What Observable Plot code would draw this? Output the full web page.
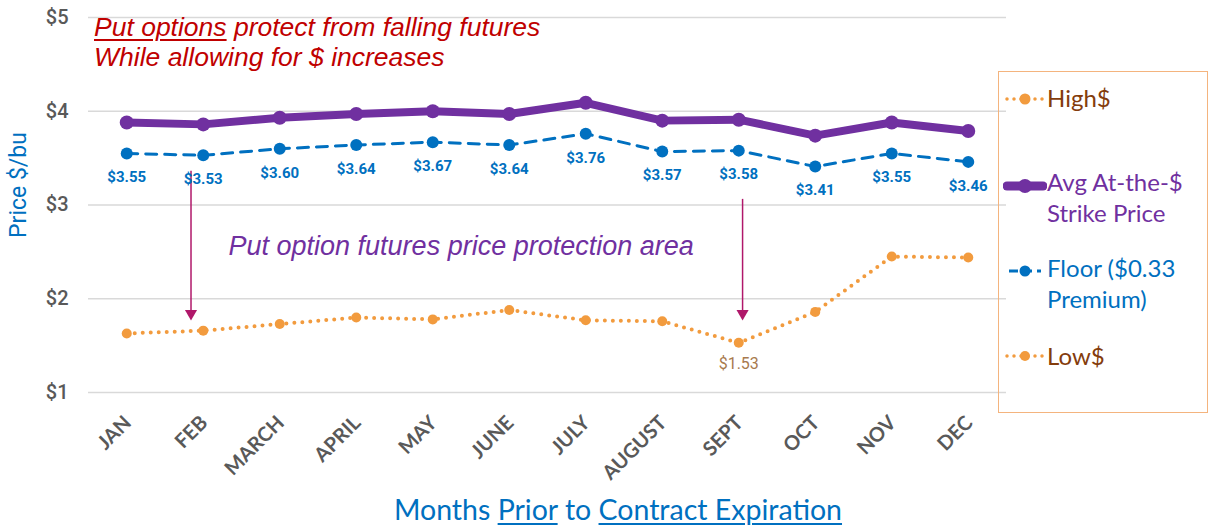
<!DOCTYPE html>
<html>
<head>
<meta charset="utf-8">
<script src="https://cdn.jsdelivr.net/npm/d3@7"></script>
<script src="https://cdn.jsdelivr.net/npm/@observablehq/plot@0.6"></script>
<style>
  html, body { margin: 0; padding: 0; background: #fff; }
  #wrap { position: relative; width: 1211px; height: 529px; overflow: hidden; }
  #wrap svg { position: absolute; left: 0; top: 0; }
  .note { position: absolute; font-family: "Liberation Sans", Arial, sans-serif; font-style: italic; color: #C00000; font-size: 26.5px; white-space: nowrap; line-height: 30px; }
  .u { text-decoration: underline; text-decoration-thickness: 2px; text-underline-offset: 3px; }
  #xtitle { position: absolute; left: 0; width: 1236px; text-align: center; top: 492px; font-family: Lato, sans-serif; font-size: 28.5px; color: #0070C0; white-space: nowrap; }
  #legend { position: absolute; left: 998px; top: 71px; width: 210px; height: 342px; border: 1.5px solid #F4B47E; box-sizing: border-box; }
  .li { position: absolute; left: 48px; font-family: Lato, sans-serif; font-size: 24px; line-height: 31px; white-space: nowrap; }
  .sym { position: absolute; left: 4px; }
</style>
</head>
<body>
<div id="wrap">
  <div class="note" style="left:94px; top:12px;"><span class="u">Put options</span> protect from falling futures<br>While allowing for $ increases</div>
  <div id="xtitle">Months <span class="u">Prior</span> to <span class="u">Contract Expiration</span></div>
  <div id="legend"></div>
</div>
<script>
// ---- data ----
const months = ["JAN","FEB","MARCH","APRIL","MAY","JUNE","JULY","AUGUST","SEPT","OCT","NOV","DEC"];
const avgStrike = [3.88,3.86,3.93,3.97,4.00,3.97,4.09,3.90,3.91,3.74,3.88,3.79];
const floorPrice = [3.55,3.53,3.60,3.64,3.67,3.64,3.76,3.57,3.58,3.41,3.55,3.46];
const lowPrice = [1.63,1.66,1.73,1.80,1.78,1.88,1.77,1.76,1.53,1.86,2.45,2.44];
const lowLabelIdx = [8];
const yTicks = [1,2,3,4,5];
const arrowX = [0.84, 8.05];
const arrowTop = [3.36, 3.06];
const arrowBottom = [1.79, 1.79];
const areaNote = ["Put option futures price protection area"];
const areaNoteX = [1.33];
const areaNoteY = [2.56];
const legendItems = ["High$", "Avg At-the-$\nStrike Price", "Floor ($0.33\nPremium)", "Low$"];

const PURPLE = "#7030A0", BLUE = "#0070C0", ORANGE = "#F29B3E", BROWN = "#843C0C", GRAY = "#595959";

const idx = months.map((d, i) => i);
const rows = idx.map(i => ({i, month: months[i], avg: avgStrike[i], floor: floorPrice[i], low: lowPrice[i]}));
const arrows = arrowX.map((x, k) => ({x, y1: arrowTop[k], y2: arrowBottom[k]}));

const chart = Plot.plot({
  width: 1211,
  height: 529,
  marginLeft: 88,
  marginRight: 205,
  marginTop: 17,
  marginBottom: 137,
  x: {type: "linear", domain: [-0.5, 11.5], axis: null},
  y: {domain: [1, 5], axis: null},
  marks: [
    Plot.ruleY(yTicks, {stroke: "#D9D9D9", strokeWidth: 1.5}),
    Plot.text(yTicks, {y: d => d, frameAnchor: "left", text: d => "$" + d, textAnchor: "end", dx: -20,
      fill: GRAY, fontSize: 20, fontWeight: 500, fontFamily: "Roboto, sans-serif"}),
    Plot.text(months, {x: (d, i) => i, frameAnchor: "bottom", text: d => d, rotate: -45, textAnchor: "end",
      lineAnchor: "middle", dy: 27, dx: 1, fill: GRAY, fontSize: 20, fontWeight: 700, fontFamily: "Lato, sans-serif"}),
    // arrows
    Plot.ruleX(arrows, {x: "x", y1: "y1", y2: "y2", stroke: "#B0186A", strokeWidth: 1.5, insetBottom: 6}),
    Plot.dot(arrows, {x: "x", y: "y2", symbol: "triangle", rotate: 180, r: 4.5, fill: "#B0186A", dy: -5}),
    // low series
    Plot.line(rows, {x: "i", y: "low", stroke: ORANGE, strokeWidth: 4, strokeDasharray: "0 8", strokeLinecap: "round"}),
    Plot.dot(rows, {x: "i", y: "low", r: 5, fill: ORANGE}),
    Plot.text(lowLabelIdx.map(i => rows[i]), {x: "i", y: "low", text: d => "$" + d.low.toFixed(2), dy: 21,
      fill: "#A87A4E", fontSize: 16, fontFamily: "Roboto, sans-serif"}),
    // floor series
    Plot.line(rows, {x: "i", y: "floor", stroke: BLUE, strokeWidth: 3, strokeDasharray: "11 8"}),
    Plot.dot(rows, {x: "i", y: "floor", r: 6, fill: BLUE}),
    Plot.text(rows, {x: "i", y: "floor", text: d => "$" + d.floor.toFixed(2), dy: 24,
      fill: BLUE, fontSize: 15, fontWeight: 700, fontFamily: "Roboto, sans-serif"}),
    // avg strike
    Plot.line(rows, {x: "i", y: "avg", stroke: PURPLE, strokeWidth: 8, strokeLinejoin: "round", strokeLinecap: "round"}),
    Plot.dot(rows, {x: "i", y: "avg", r: 7, fill: PURPLE}),
    // annotation
    Plot.text(areaNote, {x: areaNoteX, y: areaNoteY, text: d => d, textAnchor: "start", fill: PURPLE,
      fontSize: 27, fontStyle: "italic", fontFamily: "Liberation Sans, Arial, sans-serif"}),
    // y title
    Plot.text(["Price $/bu"], {frameAnchor: "left", text: d => d, rotate: -90, textAnchor: "middle", dx: -70, dy: -20, fill: BLUE,
      fontSize: 23, fontFamily: "Roboto, sans-serif"})
  ]
});
document.getElementById("wrap").prepend(chart);

// ---- legend ----
const legend = document.getElementById("legend");
const legendColors = [BROWN, PURPLE, BLUE, BROWN];
const legendTops = [10, 94, 180, 268];
const symTops = [27, 113, 199, 284];
const symSvgs = [
  `<svg width="44" height="16"><line x1="4" y1="8" x2="40" y2="8" stroke="${ORANGE}" stroke-width="3.5" stroke-dasharray="0 7" stroke-linecap="round"/><circle cx="22" cy="8" r="5.5" fill="${ORANGE}"/></svg>`,
  `<svg width="44" height="18"><line x1="4" y1="9" x2="40" y2="9" stroke="${PURPLE}" stroke-width="9" stroke-linecap="round"/><circle cx="22" cy="9" r="7" fill="${PURPLE}"/></svg>`,
  `<svg width="44" height="16"><line x1="6" y1="8" x2="38" y2="8" stroke="${BLUE}" stroke-width="3" stroke-dasharray="9 5"/><circle cx="22" cy="8" r="5.5" fill="${BLUE}"/></svg>`,
  `<svg width="44" height="16"><line x1="4" y1="8" x2="40" y2="8" stroke="${ORANGE}" stroke-width="3.5" stroke-dasharray="0 7" stroke-linecap="round"/><circle cx="22" cy="8" r="5" fill="${ORANGE}"/></svg>`
];
legendItems.forEach((t, k) => {
  const s = document.createElement("div");
  s.className = "sym";
  s.style.top = (symTops[k] - 8) + "px";
  s.innerHTML = symSvgs[k];
  legend.appendChild(s);
  const d = document.createElement("div");
  d.className = "li";
  d.style.top = legendTops[k] + "px";
  d.style.color = legendColors[k];
  d.innerHTML = t.split("\n").join("<br>");
  legend.appendChild(d);
});
</script>
</body>
</html>
